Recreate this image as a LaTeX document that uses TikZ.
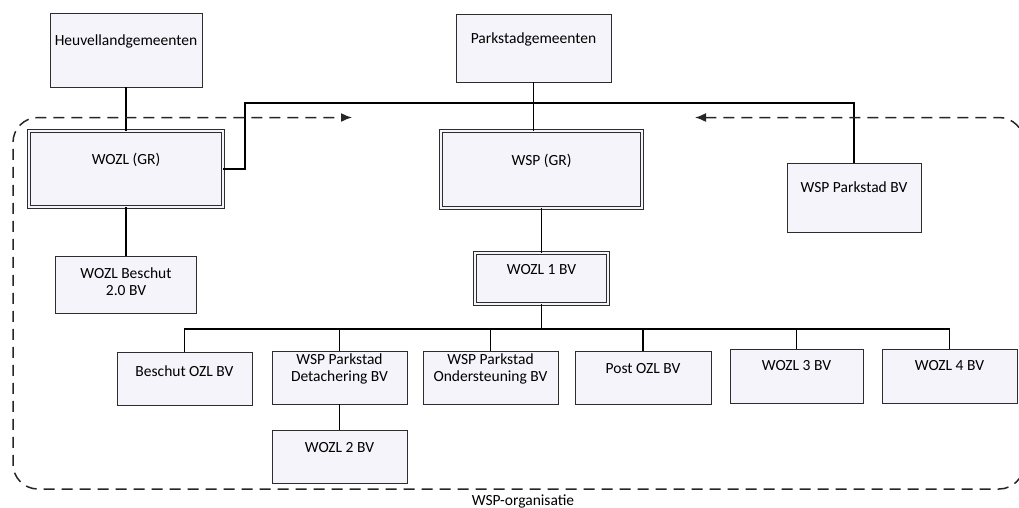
\documentclass[tikz,border=0pt]{standalone}
\usepackage{fontspec}
\setmainfont{Carlito}
\usetikzlibrary{arrows.meta}
\definecolor{boxfill}{RGB}{244,244,250}
\definecolor{linecol}{RGB}{45,45,45}
\tikzset{
  box/.style={draw=linecol, line width=0.8pt, fill=boxfill, inner sep=2pt,
    font=\fontsize{15.5}{19}\selectfont, text=black, align=center},
  up/.style={text height=11pt, text depth=20pt},
  twin/.style={double=boxfill, double distance=2.2pt, line width=0.7pt},
  conn/.style={draw=black, line width=1.5pt},
  frame/.style={draw=black!85, line width=1.5pt, dash pattern=on 11pt off 7pt, rounded corners=25pt},
}
\begin{document}
\begin{tikzpicture}[x=1pt, y=-1pt]
\useasboundingbox (0,0) rectangle (1019,507);
\clip (0,0) rectangle (1019,507);
% boxes
\node[box, up, minimum width=152pt, minimum height=74pt] (heuv) at (126,50) {Heuvellandgemeenten};
\node[box, up, minimum width=155pt, minimum height=68pt] (park) at (533.5,48) {Parkstadgemeenten};
\node[box, twin, up, minimum width=194pt, minimum height=76pt] (wozlgr) at (126,169) {WOZL (GR)};
\node[box, twin, up, minimum width=201pt, minimum height=77pt] (wspgr) at (541.5,169.5) {WSP (GR)};
\node[box, up, text depth=22pt, minimum width=134pt, minimum height=69pt] (wppbv) at (854,197.5) {WSP Parkstad BV};
\node[box, text depth=6pt, minimum width=141pt, minimum height=57pt] (wbesch) at (126,284.5) {WOZL Beschut\\[-2pt]2.0 BV};
\node[box, twin, up, minimum width=133pt, minimum height=51pt] (wozl1) at (541.5,278.5) {WOZL 1 BV};
\node[box, up, text depth=16pt, minimum width=135pt, minimum height=53pt] (bozl) at (184.5,378.5) {Beschut OZL BV};
\node[box, text depth=20pt, minimum width=135pt, minimum height=53pt] (det) at (339.5,377.5) {WSP Parkstad\\[-2pt]Detachering BV};
\node[box, text depth=20pt, minimum width=135pt, minimum height=53pt] (ond) at (490.5,377.5) {WSP Parkstad\\[-2pt]Ondersteuning BV};
\node[box, up, minimum width=136pt, minimum height=53pt] (post) at (643,377.5) {Post OZL BV};
\node[box, up, text depth=22pt, minimum width=133pt, minimum height=54pt] (wozl3) at (796.5,376) {WOZL 3 BV};
\node[box, up, text depth=22pt, minimum width=135pt, minimum height=54pt] (wozl4) at (949.5,376) {WOZL 4 BV};
\node[box, up, minimum width=135pt, minimum height=53pt] (wozl2) at (339.5,456.5) {WOZL 2 BV};
% connectors
\coordinate (bar) at (245,103);
\coordinate (bus) at (541.5,329);
\draw[conn] (heuv.south) -- (wozlgr.north);
\draw[conn] (park.south) -- (park.south |- wspgr.north);
\draw[conn] (wozlgr.east) -| (bar) -| (wppbv.north);
\draw[conn] (wozlgr.south) -- (wbesch.north);
\draw[conn] (wspgr.south) -- (wozl1.north);
\draw[conn] (wozl1.south) -- (bus);
\foreach \c in {bozl,det,ond,post,wozl3,wozl4} \draw[conn] (bus) -| (\c.north);
\draw[conn] (det.south) -- (wozl2.north);
% organisation frame
\coordinate (tipL) at (695,117.5);
\coordinate (tipR) at (352,117.5);
\draw[frame, {Latex[length=11pt,width=9pt]}-{Latex[length=11pt,width=9pt]}]
  (tipL) -- (1024,117.5) -- (1024,489) -- (13,489) -- (13,117.5) -- (tipR);
\node[font=\fontsize{15.5}{19}\selectfont, anchor=base] (orglabel) at (523,505) {WSP-organisatie};
\end{tikzpicture}
\end{document}
